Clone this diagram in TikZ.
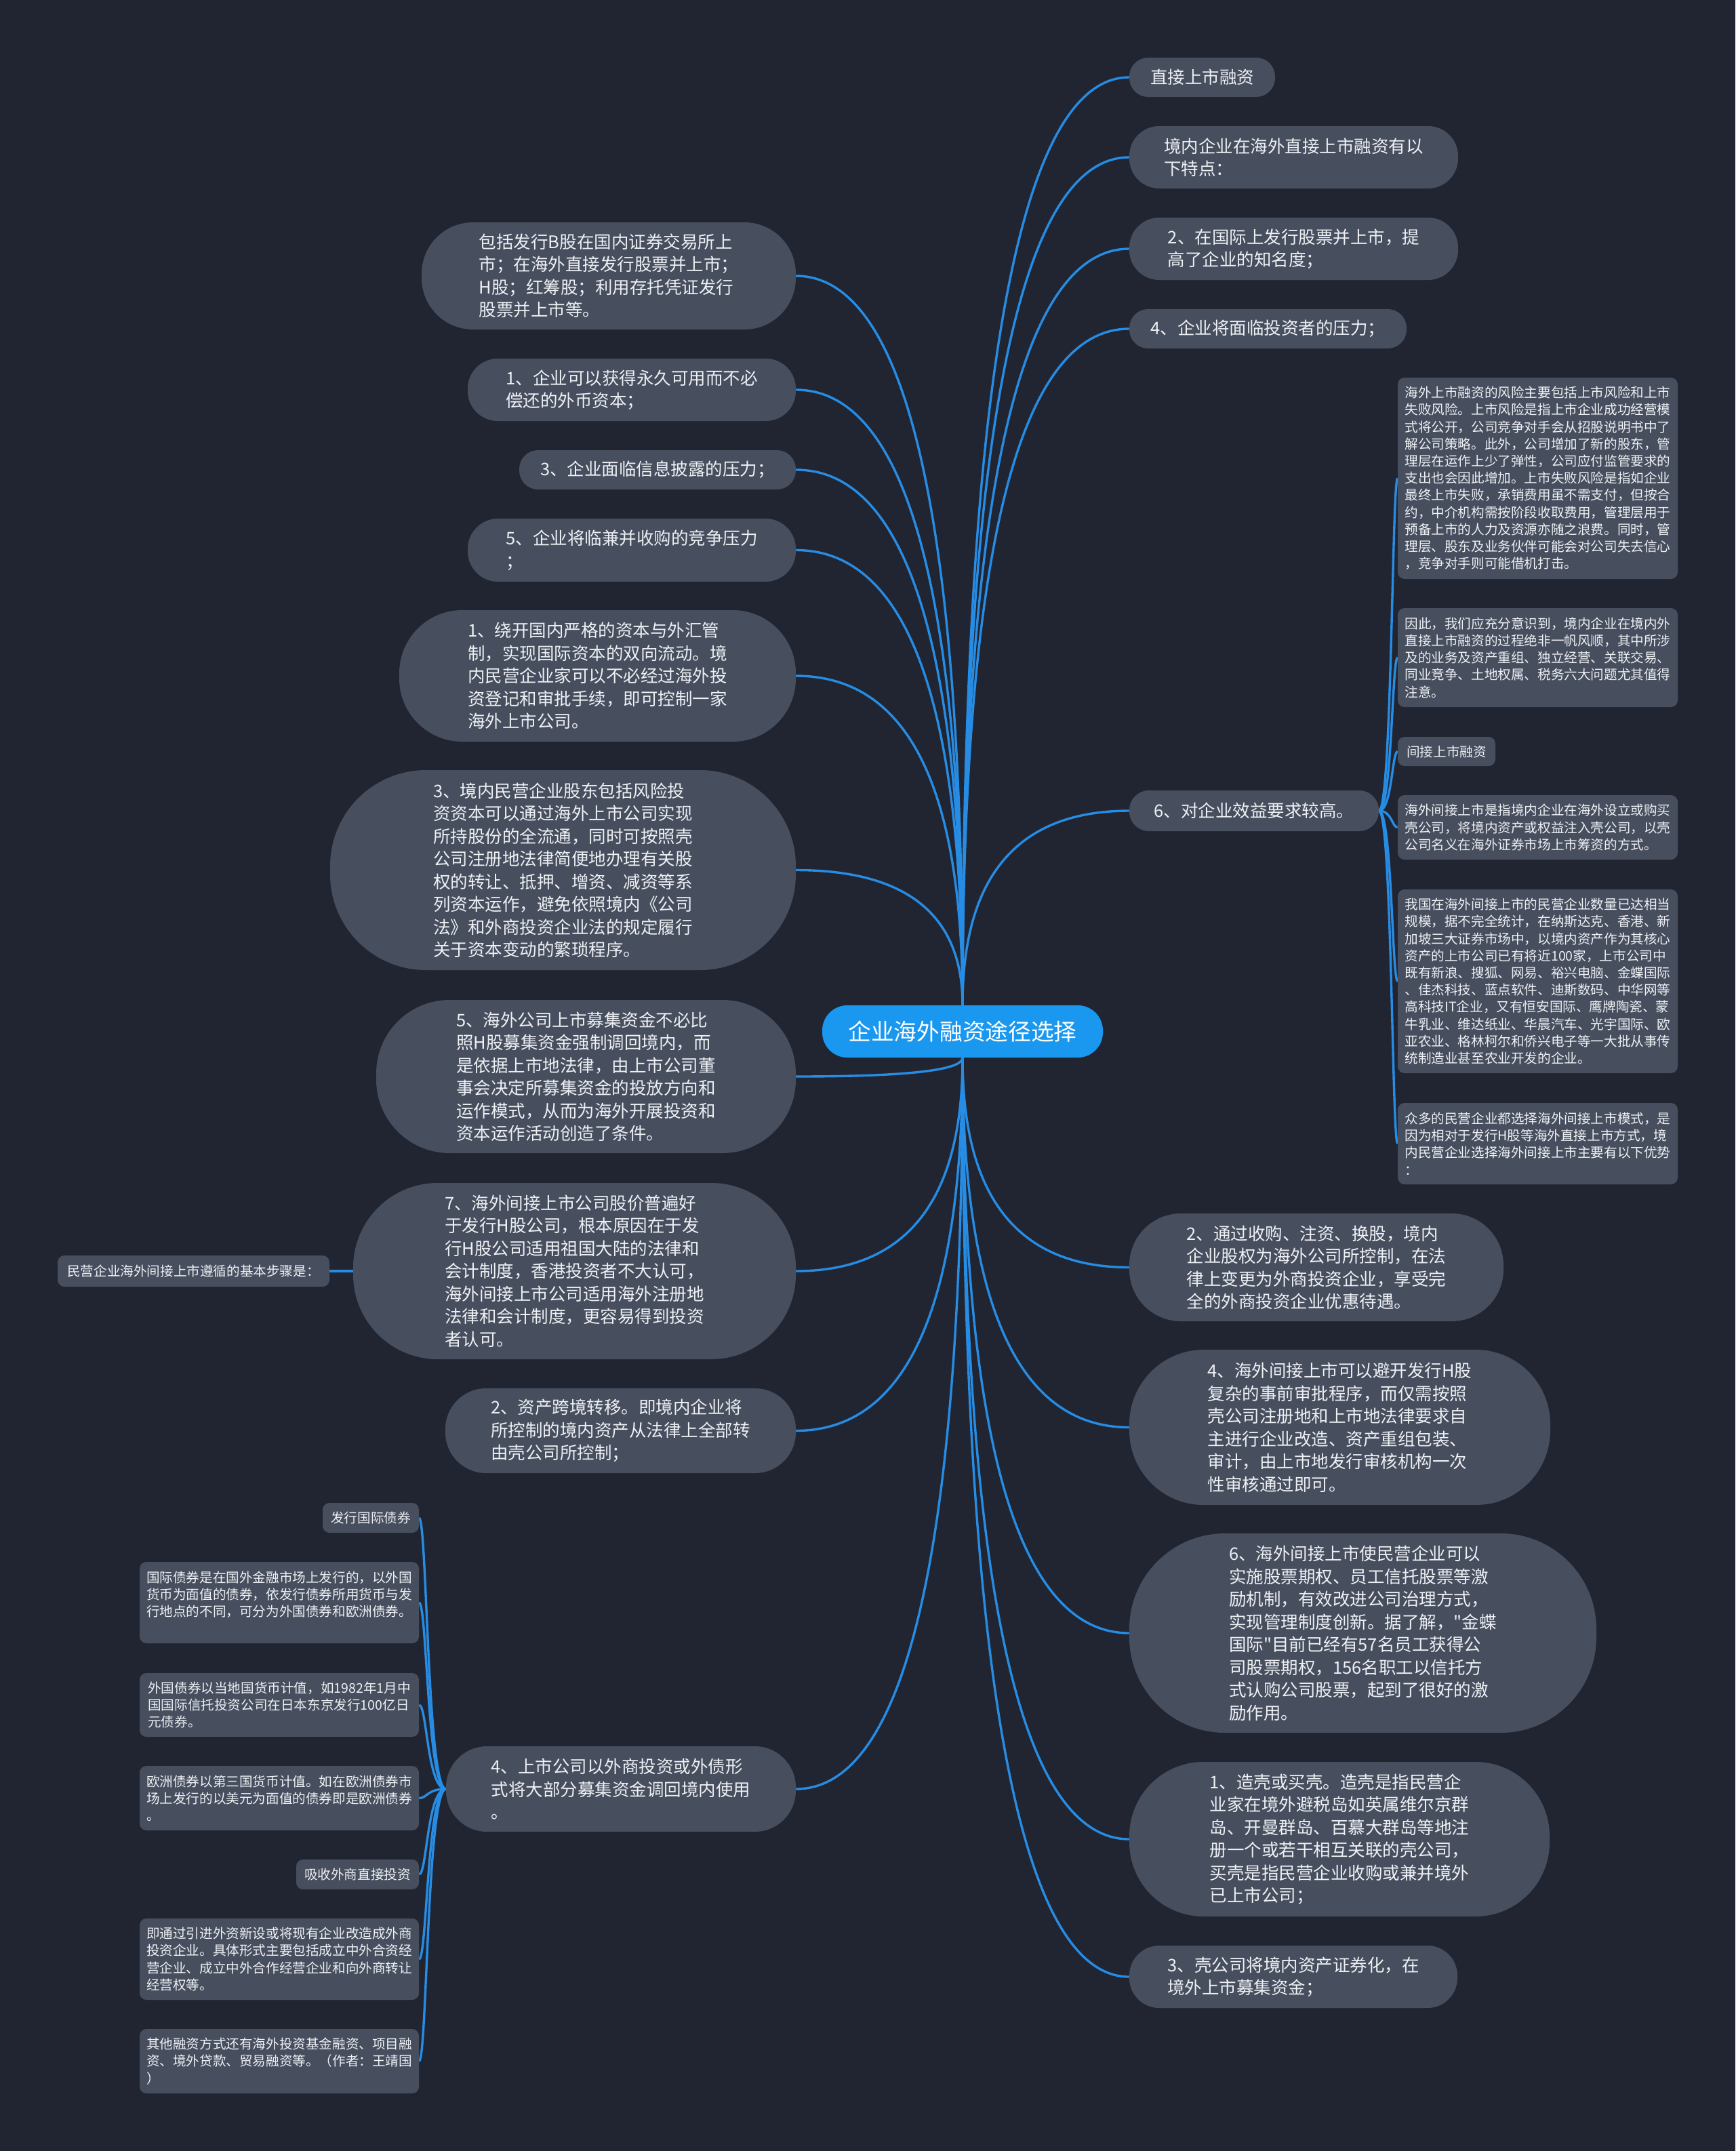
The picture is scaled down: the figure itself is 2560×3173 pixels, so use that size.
\documentclass[tikz,border=0pt]{standalone}
\usepackage{fontspec}
\newfontfamily\cjk{Noto Sans CJK SC}
\usetikzlibrary{calc}
\definecolor{bgc}{RGB}{33,37,49}
\definecolor{nodec}{RGB}{71,79,95}
\definecolor{cenc}{RGB}{26,152,240}
\definecolor{linec}{RGB}{38,140,228}
\definecolor{txtc}{RGB}{238,240,244}
\pgfdeclarelayer{bglayer}
\pgfdeclarelayer{linelayer}
\pgfsetlayers{bglayer,linelayer,main}
\tikzset{
  bignode/.style={fill=nodec,text=txtc,inner sep=0pt,align=left,font=\cjk\fontsize{25.5pt}{33.5pt}\selectfont},
  smallnode/.style={fill=nodec,text=txtc,inner sep=0pt,align=left,rounded corners=10pt,font=\cjk\fontsize{19.6pt}{25.2pt}\selectfont},
  cennode/.style={fill=cenc,text=white,inner sep=0pt,align=center,rounded corners=37pt,font=\cjk\fontsize{33.7pt}{40pt}\selectfont},
  connline/.style={draw=linec,line width=3.4pt},
}
\newcommand\BN[6]{\pgfmathsetmacro\myrr{#5*0.48}\node[bignode,minimum width=#4pt,minimum height=#5pt,rounded corners=\myrr pt] (#1) at (#2,#3) {#6};}
\newcommand\SN[6]{\node[smallnode,minimum width=#4pt,minimum height=#5pt] (#1) at (#2,#3) {#6};}
\newcommand\clnk[2]{\coordinate (cc) at (#1 |- #2);\draw[connline] (#1) .. controls ($(#1)!0.6667!(cc)$) and ($(#2)!0.6667!(cc)$) .. (#2);}
\newcommand\blnk[2]{\path (#1) -- (#2) coordinate[pos=0.7] (mm);\draw[connline] (#1) .. controls (mm |- #1) and (mm |- #2) .. (#2);}
\begin{document}
\begin{tikzpicture}[x=1pt,y=-1pt]
\begin{pgfonlayer}{bglayer}
\fill[bgc] (0,0) rectangle (2560,3173);
\end{pgfonlayer}
\useasboundingbox (0,0) rectangle (2560,3173);
% center
\node[cennode,minimum width=414pt,minimum height=77pt] (cen) at (1420,1521.5) {企业海外融资途径选择};
% right
\BN{r1}{1773.5}{114}{215}{58}{直接上市融资}
\BN{r2}{1908.5}{232}{485}{92}{境内企业在海外直接上市融资有以\\下特点：}
\BN{r3}{1908.5}{367}{485}{92}{2、在国际上发行股票并上市，提\\高了企业的知名度；}
\BN{r4}{1870.5}{485}{409}{58}{4、企业将面临投资者的压力；}
\BN{r5}{1850}{1196}{368}{60}{6、对企业效益要求较高。}
\BN{r6}{1942}{1869.5}{552}{159}{2、通过收购、注资、换股，境内\\企业股权为海外公司所控制，在法\\律上变更为外商投资企业，享受完\\全的外商投资企业优惠待遇。}
\BN{r7}{1976.5}{2105.5}{621}{229}{4、海外间接上市可以避开发行H股\\复杂的事前审批程序，而仅需按照\\壳公司注册地和上市地法律要求自\\主进行企业改造、资产重组包装、\\审计，由上市地发行审核机构一次\\性审核通过即可。}
\BN{r8}{2010.5}{2409}{689}{294}{6、海外间接上市使民营企业可以\\实施股票期权、员工信托股票等激\\励机制，有效改进公司治理方式，\\实现管理制度创新。据了解，"金蝶\\国际"目前已经有57名员工获得公\\司股票期权，156名职工以信托方\\式认购公司股票，起到了很好的激\\励作用。}
\BN{r9}{1976}{2713}{620}{228}{1、造壳或买壳。造壳是指民营企\\业家在境外避税岛如英属维尔京群\\岛、开曼群岛、百慕大群岛等地注\\册一个或若干相互关联的壳公司，\\买壳是指民营企业收购或兼并境外\\已上市公司；}
\BN{r10}{1908}{2916}{484}{92}{3、壳公司将境内资产证券化，在\\境外上市募集资金；}
% right small
\SN{s1}{2268.5}{705.5}{413}{297}{海外上市融资的风险主要包括上市风险和上市\\失败风险。上市风险是指上市企业成功经营模\\式将公开，公司竞争对手会从招股说明书中了\\解公司策略。此外，公司增加了新的股东，管\\理层在运作上少了弹性，公司应付监管要求的\\支出也会因此增加。上市失败风险是指如企业\\最终上市失败，承销费用虽不需支付，但按合\\约，中介机构需按阶段收取费用，管理层用于\\预备上市的人力及资源亦随之浪费。同时，管\\理层、股东及业务伙伴可能会对公司失去信心\\，竞争对手则可能借机打击。}
\SN{s2}{2268.5}{970}{413}{146}{因此，我们应充分意识到，境内企业在境内外\\直接上市融资的过程绝非一帆风顺，其中所涉\\及的业务及资产重组、独立经营、关联交易、\\同业竞争、土地权属、税务六大问题尤其值得\\注意。}
\SN{s3}{2134}{1108.5}{144}{43}{间接上市融资}
\SN{s4}{2268.5}{1220.5}{413}{95}{海外间接上市是指境内企业在海外设立或购买\\壳公司，将境内资产或权益注入壳公司，以壳\\公司名义在海外证券市场上市筹资的方式。}
\SN{s5}{2268.5}{1447.5}{413}{271}{我国在海外间接上市的民营企业数量已达相当\\规模，据不完全统计，在纳斯达克、香港、新\\加坡三大证券市场中，以境内资产作为其核心\\资产的上市公司已有将近100家，上市公司中\\既有新浪、搜狐、网易、裕兴电脑、金蝶国际\\、佳杰科技、蓝点软件、迪斯数码、中华网等\\高科技IT企业，又有恒安国际、鹰牌陶瓷、蒙\\牛乳业、维达纸业、华晨汽车、光宇国际、欧\\亚农业、格林柯尔和侨兴电子等一大批从事传\\统制造业甚至农业开发的企业。}
\SN{s6}{2268.5}{1687}{413}{120}{众多的民营企业都选择海外间接上市模式，是\\因为相对于发行H股等海外直接上市方式，境\\内民营企业选择海外间接上市主要有以下优势\\：}
% left
\BN{l1}{898}{407}{552}{158}{包括发行B股在国内证券交易所上\\市；在海外直接发行股票并上市；\\H股；红筹股；利用存托凭证发行\\股票并上市等。}
\BN{l2}{932}{575}{484}{92}{1、企业可以获得永久可用而不必\\偿还的外币资本；}
\BN{l3}{970}{693}{408}{58}{3、企业面临信息披露的压力；}
\BN{l4}{932}{811.5}{484}{93}{5、企业将临兼并收购的竞争压力\\；}
\BN{l5}{881.5}{997}{585}{194}{1、绕开国内严格的资本与外汇管\\制，实现国际资本的双向流动。境\\内民营企业家可以不必经过海外投\\资登记和审批手续，即可控制一家\\海外上市公司。}
\BN{l6}{830.5}{1283.5}{687}{295}{3、境内民营企业股东包括风险投\\资资本可以通过海外上市公司实现\\所持股份的全流通，同时可按照壳\\公司注册地法律简便地办理有关股\\权的转让、抵押、增资、减资等系\\列资本运作，避免依照境内《公司\\法》和外商投资企业法的规定履行\\关于资本变动的繁琐程序。}
\BN{l7}{864.5}{1588}{619}{226}{5、海外公司上市募集资金不必比\\照H股募集资金强制调回境内，而\\是依据上市地法律，由上市公司董\\事会决定所募集资金的投放方向和\\运作模式，从而为海外开展投资和\\资本运作活动创造了条件。}
\BN{l8}{847.5}{1875}{653}{260}{7、海外间接上市公司股价普遍好\\于发行H股公司，根本原因在于发\\行H股公司适用祖国大陆的法律和\\会计制度，香港投资者不大认可，\\海外间接上市公司适用海外注册地\\法律和会计制度，更容易得到投资\\者认可。}
\SN{la}{285.5}{1875}{401}{46}{民营企业海外间接上市遵循的基本步骤是：}
\BN{l9}{915.5}{2110.5}{517}{125}{2、资产跨境转移。即境内企业将\\所控制的境内资产从法律上全部转\\由壳公司所控制；}
\BN{l10}{916}{2639}{516}{126}{4、上市公司以外商投资或外债形\\式将大部分募集资金调回境内使用\\。}
% left small
\SN{b1}{547}{2239}{142}{44}{发行国际债券}
\SN{b2}{412}{2364}{412}{120}{国际债券是在国外金融市场上发行的，以外国\\货币为面值的债券，依发行债券所用货币与发\\行地点的不同，可分为外国债券和欧洲债券。\\\mbox{}}
\SN{b3}{412}{2515}{412}{94}{外国债券以当地国货币计值，如1982年1月中\\国国际信托投资公司在日本东京发行100亿日\\元债券。}
\SN{b4}{412}{2652.5}{412}{95}{欧洲债券以第三国货币计值。如在欧洲债券市\\场上发行的以美元为面值的债券即是欧洲债券\\。}
\SN{b5}{527.5}{2765}{181}{44}{吸收外商直接投资}
\SN{b6}{412}{2890}{412}{120}{即通过引进外资新设或将现有企业改造成外商\\投资企业。具体形式主要包括成立中外合资经\\营企业、成立中外合作经营企业和向外商转让\\经营权等。}
\SN{b7}{412}{3040.5}{412}{95}{其他融资方式还有海外投资基金融资、项目融\\资、境外贷款、贸易融资等。（作者：王靖国\\）}
% connectors
\begin{pgfonlayer}{linelayer}
\clnk{cen.north}{r1.west}
\clnk{cen.north}{r2.west}
\clnk{cen.north}{r3.west}
\clnk{cen.north}{r4.west}
\clnk{cen.north}{r5.west}
\clnk{cen.south}{r6.west}
\clnk{cen.south}{r7.west}
\clnk{cen.south}{r8.west}
\clnk{cen.south}{r9.west}
\clnk{cen.south}{r10.west}
\clnk{cen.north}{l1.east}
\clnk{cen.north}{l2.east}
\clnk{cen.north}{l3.east}
\clnk{cen.north}{l4.east}
\clnk{cen.north}{l5.east}
\clnk{cen.north}{l6.east}
\clnk{cen.south}{l7.east}
\clnk{cen.south}{l8.east}
\clnk{cen.south}{l9.east}
\clnk{cen.south}{l10.east}
\blnk{r5.east}{s1.west}
\blnk{r5.east}{s2.west}
\blnk{r5.east}{s3.west}
\blnk{r5.east}{s4.west}
\blnk{r5.east}{s5.west}
\blnk{r5.east}{s6.west}
\draw[connline] (l8.west) -- (la.east);
\blnk{l10.west}{b1.east}
\blnk{l10.west}{b2.east}
\blnk{l10.west}{b3.east}
\blnk{l10.west}{b4.east}
\blnk{l10.west}{b5.east}
\blnk{l10.west}{b6.east}
\blnk{l10.west}{b7.east}
\end{pgfonlayer}
\end{tikzpicture}
\end{document}
